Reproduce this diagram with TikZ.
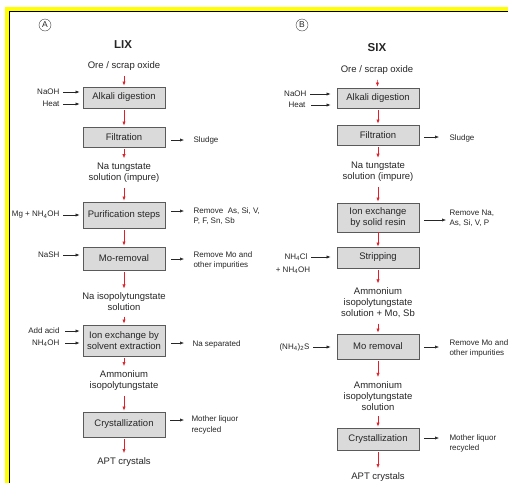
\documentclass[tikz,border=0pt]{standalone}
\usepackage{fontspec}
\setmainfont{Liberation Sans}
\usetikzlibrary{arrows.meta}
\definecolor{boxgray}{RGB}{218,218,218}
\definecolor{boxline}{RGB}{90,90,90}
\definecolor{flowred}{RGB}{226,30,40}
\definecolor{frameyellow}{RGB}{255,255,0}

\begin{document}
\begin{tikzpicture}[x=1pt,y=-1pt,
  every node/.style={font=\fontsize{9.5}{11}\selectfont, text=black!85, align=center},
  stepbox/.style={draw=boxline, fill=boxgray, line width=0.8pt, minimum width=82pt, inner sep=1pt},
  side/.style={font=\fontsize{8}{10.5}\selectfont, align=left},
  circ/.style={circle, draw=black!75, inner sep=0pt, minimum size=12pt, font=\fontsize{8.5}{8.5}\selectfont},
  title/.style={font=\fontsize{11.5}{12}\selectfont\bfseries},
  redarr/.style={draw=flowred, line width=0.6pt, -{Latex[length=4pt,width=3.2pt]}, shorten <=2pt, shorten >=1pt},
  blkarr/.style={draw=black!85, line width=0.6pt, -{Latex[length=4pt,width=3.2pt]}}]
   \useasboundingbox (0,0) rectangle (508,483);
   % frame
   \fill[frameyellow] (5,7) rectangle (508,483);
   \fill[white] (9,11) rectangle (508,483);
   \draw[line width=1.2pt] (9.6,483) -- (9.6,11.6) -- (508,11.6);

   % LIX column
   \node[circ] (circA) at (45,25) {A};
   \node[title] (titleA) at (123,45) {LIX};
   \node (oreA) at (124,66) {Ore / scrap oxide};
   \node[stepbox, minimum height=21pt] (alkA) at (124,97.5) {Alkali digestion};
   \node[stepbox, minimum height=20pt] (filtA) at (124,137) {Filtration};
   \node (naA) at (124,172.5) {Na tungstate\\solution (impure)};
   \node[stepbox, minimum height=26pt] (purA) at (124,215) {Purification steps};
   \node[stepbox, minimum height=23pt] (moA) at (124,258.5) {Mo-removal};
   \node (isoA) at (124,302) {Na isopolytungstate\\solution};
   \node[stepbox, minimum height=31pt] (ionA) at (124,340.5) {Ion exchange by\\solvent extraction};
   \node (ammA) at (124,380.5) {Ammonium\\isopolytungstate};
   \node[stepbox, minimum height=25pt] (cryA) at (124,424.5) {Crystallization};
   \node (aptA) at (124,462) {APT crystals};

   \draw[redarr] (oreA) -- (alkA);
   \draw[redarr] (alkA) -- (filtA);
   \draw[redarr] (filtA) -- (naA);
   \draw[redarr] (naA) -- (purA);
   \draw[redarr] (purA) -- (moA);
   \draw[redarr] (moA) -- (isoA);
   \draw[redarr] (isoA) -- (ionA);
   \draw[redarr] (ionA) -- (ammA);
   \draw[redarr] (ammA) -- (cryA);
   \draw[redarr] (cryA) -- (aptA);

   \node[side, anchor=east] (naohA) at (63,92) {NaOH};
   \node[side, anchor=east] (heatA) at (63,104) {Heat};
   \node[side, anchor=east] (mgA) at (63,215) {Mg + NH\textsubscript{4}OH};
   \node[side, anchor=east] (nashA) at (63,255) {NaSH};
   \node[side, anchor=east] (acidA) at (63,331) {Add acid};
   \node[side, anchor=east] (nh4A) at (63,343) {NH\textsubscript{4}OH};
   \draw[blkarr, shorten >=3pt] (naohA) -- (naohA -| alkA.west);
   \draw[blkarr, shorten >=3pt] (heatA) -- (heatA -| alkA.west);
   \draw[blkarr, shorten >=3pt] (mgA) -- (mgA -| purA.west);
   \draw[blkarr, shorten >=3pt] (nashA) -- (nashA -| moA.west);
   \draw[blkarr, shorten >=3pt, shorten <=2pt] (acidA) -- (acidA -| ionA.west);
   \draw[blkarr, shorten >=3pt, shorten <=2pt] (nh4A) -- (nh4A -| ionA.west);

   \node[side, anchor=west] (sludgeA) at (190,140) {Sludge};
   \node[side, anchor=west] (remAsA) at (190,216) {Remove~~As, Si, V,\\P, F, Sn, Sb};
   \node[side, anchor=west] (remMoA) at (190,260.5) {Remove Mo and\\other impurities};
   \node[side, anchor=west] (naSepA) at (189,344) {Na separated};
   \node[side, anchor=west] (motherA) at (188,425) {Mother liquor\\recycled};
   \coordinate (tSludgeA) at (184,140);
   \coordinate (tRemAsA) at (184,211);
   \coordinate (tRemMoA) at (184,259);
   \coordinate (tNaSepA) at (184,343);
   \coordinate (tMotherA) at (184,420);
   \draw[blkarr, shorten <=6pt] (filtA.east |- tSludgeA) -- (tSludgeA);
   \draw[blkarr, shorten <=6pt] (purA.east |- tRemAsA) -- (tRemAsA);
   \draw[blkarr, shorten <=6pt] (moA.east |- tRemMoA) -- (tRemMoA);
   \draw[blkarr, shorten <=6pt] (ionA.east |- tNaSepA) -- (tNaSepA);
   \draw[blkarr, shorten <=5pt] (cryA.east |- tMotherA) -- (tMotherA);

   % SIX column
   \node[circ] (circB) at (302,25) {B};
   \node[title] (titleB) at (377,48) {SIX};
   \node (oreB) at (377,70) {Ore / scrap oxide};
   \node[stepbox, minimum height=20pt] (alkB) at (378,98) {Alkali digestion};
   \node[stepbox, minimum height=20pt] (filtB) at (378,135) {Filtration};
   \node (naB) at (378,172) {Na tungstate\\solution (impure)};
   \node[stepbox, minimum height=29pt] (ionB) at (378,217.5) {Ion exchange\\by solid resin};
   \node[stepbox, minimum height=21pt] (stripB) at (378,257.5) {Stripping};
   \node (ammB) at (378,303) {Ammonium\\isopolytungstate\\solution + Mo, Sb};
   \node[stepbox, minimum height=25pt] (moB) at (378,346.5) {Mo removal};
   \node (amm2B) at (378,396) {Ammonium\\isopolytungstate\\solution};
   \node[stepbox, minimum height=22pt] (cryB) at (378,439) {Crystallization};
   \node (aptB) at (378,477) {APT crystals};

   \draw[redarr] (oreB) -- (alkB);
   \draw[redarr] (alkB) -- (filtB);
   \draw[redarr] (filtB) -- (naB);
   \draw[redarr] (naB) -- (ionB);
   \draw[redarr, shorten <=0pt, shorten >=0pt] (ionB) -- (stripB);
   \draw[redarr] (stripB) -- (ammB);
   \draw[redarr] (ammB) -- (moB);
   \draw[redarr] (moB) -- (amm2B);
   \draw[redarr] (amm2B) -- (cryB);
   \draw[redarr] (cryB) -- (aptB);

   \node[side, anchor=east] (naohB) at (310,94) {NaOH};
   \node[side, anchor=east] (heatB) at (309,105) {Heat};
   \node[side, anchor=east] (nh4clB) at (311,257) {NH\textsubscript{4}Cl};
   \node[side] (nh4ohB) at (293,270) {+ NH\textsubscript{4}OH};
   \node[side, anchor=east] (nh4sB) at (313,347) {(NH\textsubscript{4})\textsubscript{2}S};
   \draw[blkarr, shorten >=6pt] (naohB) -- (naohB -| alkB.west);
   \draw[blkarr, shorten >=6pt, shorten <=2pt] (heatB) -- (heatB -| alkB.west);
   \draw[blkarr, shorten >=6pt] (nh4clB) -- (nh4clB -| stripB.west);
   \draw[blkarr, shorten >=6pt] (nh4sB) -- (nh4sB -| moB.west);

   \node[side, anchor=west] (sludgeB) at (446,138) {Sludge};
   \node[side, anchor=west] (remNaB) at (446,218.5) {Remove Na,\\As, Si, V, P};
   \node[side, anchor=west] (remMoB) at (446,348.5) {Remove Mo and\\other impurities};
   \node[side, anchor=west] (motherB) at (446,443.5) {Mother liquor\\recycled};
   \coordinate (tSludgeB) at (439,137);
   \coordinate (tRemNaB) at (446,220);
   \coordinate (tRemMoB) at (439,347);
   \coordinate (tMotherB) at (439,438);
   \draw[blkarr, shorten <=5pt] (filtB.east |- tSludgeB) -- (tSludgeB);
   \draw[blkarr, shorten <=5pt] (ionB.east |- tRemNaB) -- (tRemNaB);
   \draw[blkarr, shorten <=5pt] (moB.east |- tRemMoB) -- (tRemMoB);
   \draw[blkarr, shorten <=5pt] (cryB.east |- tMotherB) -- (tMotherB);
\end{tikzpicture}
\end{document}
